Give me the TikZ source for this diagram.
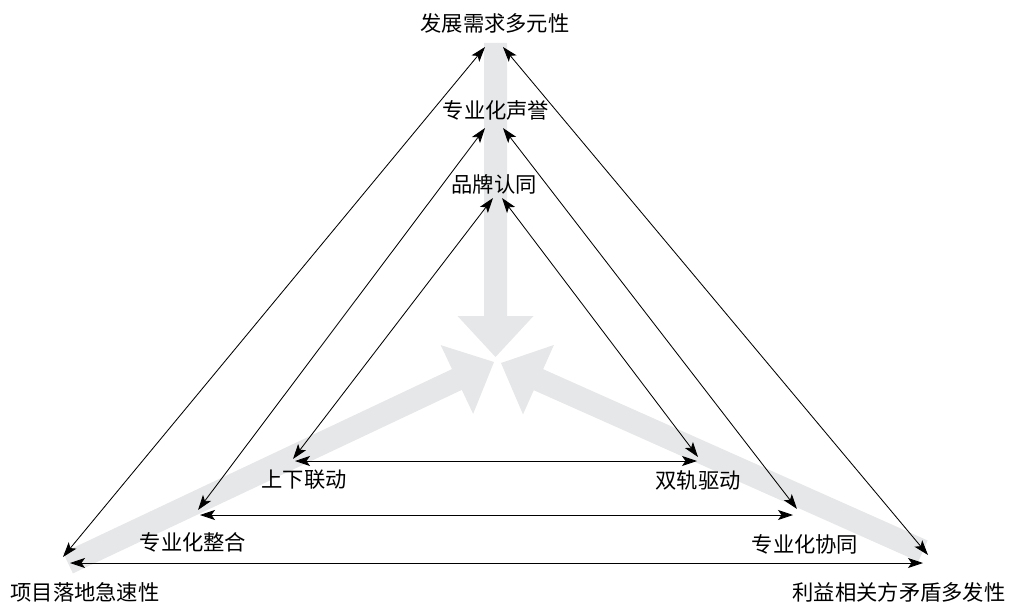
\documentclass[tikz,border=0pt]{standalone}
\usepackage{fontspec}
\newfontfamily\cjk{Noto Sans CJK SC}
\usetikzlibrary{arrows.meta,calc}
\definecolor{bandgray}{RGB}{230,231,232}
\begin{document}
\begin{tikzpicture}[x=1pt,y=-1pt,
  lbl/.style={font=\cjk\fontsize{21.3}{24}\selectfont, inner sep=0pt},
  tipa/.tip={Stealth[length=15pt,width=10pt,inset=3.5pt]},
  link/.style={line width=0.85pt, tipa-tipa}]
\useasboundingbox (0,0) rectangle (1009,607);

% gray converging bands
\coordinate (gA1) at (495.5,43);  \coordinate (gT1) at (495.5,357);
\coordinate (gA2) at (68,563);    \coordinate (gT2) at (494,362);
\coordinate (gA3) at (923,551);   \coordinate (gT3) at (501,363);
\foreach \i in {1,2,3}{
  \coordinate (gB\i) at ($(gT\i)!41pt!(gA\i)$);
  \fill[bandgray]
    ($(gA\i)!11.5pt!90:(gT\i)$) -- ($(gB\i)!11.5pt!-90:(gA\i)$) --
    ($(gB\i)!38pt!-90:(gA\i)$) -- (gT\i) --
    ($(gB\i)!38pt!90:(gA\i)$) -- ($(gB\i)!11.5pt!90:(gA\i)$) --
    ($(gA\i)!11.5pt!-90:(gT\i)$) -- cycle;
}

% arrow end points
\coordinate (oTL) at (485,47);  \coordinate (oTR) at (503,47);
\coordinate (oBL) at (63,557);  \coordinate (oBR) at (928,555);
\coordinate (oHL) at (70,563);  \coordinate (oHR) at (923,563);
\coordinate (mTL) at (485,128); \coordinate (mTR) at (503,128);
\coordinate (mBL) at (198,510); \coordinate (mBR) at (797,509);
\coordinate (mHL) at (200,515); \coordinate (mHR) at (793,515);
\coordinate (iTL) at (493,198); \coordinate (iTR) at (502,198);
\coordinate (iBL) at (293,459); \coordinate (iBR) at (698,457);
\coordinate (iHL) at (295,461); \coordinate (iHR) at (697,461);

\draw[link] (oBL) -- (oTL);
\draw[link] (oTR) -- (oBR);
\draw[link] (oHL) -- (oHR);
\draw[link] (mBL) -- (mTL);
\draw[link] (mTR) -- (mBR);
\draw[link] (mHL) -- (mHR);
\draw[link] (iBL) -- (iTL);
\draw[link] (iTR) -- (iBR);
\draw[link] (iHL) -- (iHR);

% labels
\node[lbl] (top) at (495,23) {发展需求多元性};
\node[lbl] (rep) at (496,110) {专业化声誉};
\node[lbl] (brand) at (494,184) {品牌认同};
\node[lbl] (sx) at (304,480) {上下联动};
\node[lbl] (sg) at (698,480) {双轨驱动};
\node[lbl] (zh) at (193,542) {专业化整合};
\node[lbl] (xt) at (805,544) {专业化协同};
\node[lbl] (bl) at (85,592) {项目落地急速性};
\node[lbl] (br) at (899,592) {利益相关方矛盾多发性};
\end{tikzpicture}
\end{document}
